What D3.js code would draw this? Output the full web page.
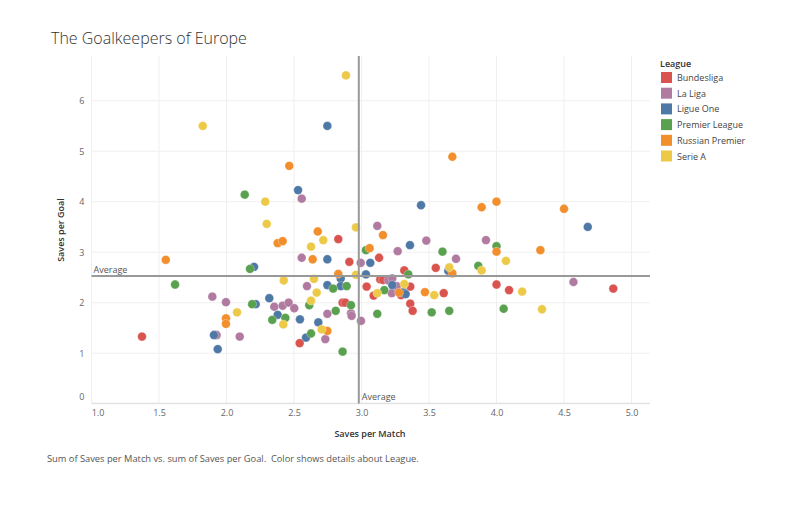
<!DOCTYPE html>
<html><head><meta charset="utf-8">
<script src="https://cdn.jsdelivr.net/npm/d3@7"></script>
<style>
body{margin:0;background:#fff;}
text{font-family:"Open Sans","Noto Sans",sans-serif;}
</style></head>
<body><svg id="chart" width="812" height="505"></svg>
<script>
const leagues = ["Bundesliga","La Liga","Ligue One","Premier League","Russian Premier","Serie A"];
const leagueColors = ["#d9534f","#b07aa1","#4e79a7","#59a14f","#f28e2b","#edc948"];
const xTicks = [1.0,1.5,2.0,2.5,3.0,3.5,4.0,4.5,5.0];
const yTicks = [0,1,2,3,4,5,6];
const avgSavesPerMatch = 2.98;
const avgSavesPerGoal = 2.53;

// [saves per match, saves per goal]
const bundesliga = [[1.374,1.33],[2.828,3.26],[2.91,2.81],[3.038,2.32],[2.86,2.0],[2.88,2.0],[2.542,1.20],[3.13,2.89],[3.55,2.69],[3.317,2.64],[3.139,2.46],[3.16,2.45],[3.361,2.32],[3.09,2.14],[3.293,2.15],[3.609,2.19],[3.361,1.98],[3.379,1.84],[4.0,2.36],[4.093,2.25],[4.865,2.28]];
const laLiga = [[2.557,4.06],[2.557,2.89],[2.994,2.79],[2.596,2.33],[2.354,1.92],[2.416,1.94],[2.46,2.0],[2.502,1.89],[2.747,1.78],[2.922,1.79],[2.927,1.74],[2.996,1.64],[2.732,1.28],[1.895,2.12],[1.996,2.01],[1.927,1.36],[2.098,1.33],[3.117,3.52],[3.48,3.23],[3.268,3.02],[3.70,2.87],[3.199,2.44],[3.228,2.48],[3.261,2.33],[3.224,2.19],[3.922,3.24],[4.57,2.41]];
const ligueOne = [[2.747,5.50],[2.53,4.23],[2.747,2.86],[3.065,2.79],[2.204,2.71],[2.846,2.48],[3.033,2.56],[2.747,2.35],[2.846,2.33],[2.317,2.09],[2.216,1.97],[2.379,1.76],[2.544,1.67],[2.68,1.61],[2.589,1.31],[1.907,1.36],[1.935,1.08],[3.441,3.93],[3.359,3.14],[3.643,2.63],[3.228,2.35],[3.31,2.21],[3.327,2.17],[4.676,3.50]];
const premierLeague = [[2.135,4.14],[2.174,2.67],[1.619,2.36],[3.033,3.04],[2.79,2.28],[2.89,2.33],[2.19,1.97],[2.613,1.95],[2.922,1.95],[2.339,1.66],[2.436,1.70],[2.809,1.84],[2.626,1.39],[2.86,1.03],[3.60,3.01],[3.347,2.56],[3.169,2.25],[3.117,1.78],[3.52,1.81],[3.65,1.84],[3.865,2.73],[4.0,3.12],[4.053,1.88]];
const russianPremier = [[1.55,2.85],[1.996,1.69],[1.996,1.58],[2.465,4.71],[2.676,3.41],[2.379,3.18],[2.416,3.22],[2.638,2.86],[2.828,2.57],[2.747,1.44],[3.06,3.08],[3.159,3.34],[3.673,2.58],[3.278,2.20],[3.47,2.21],[3.673,4.89],[3.89,3.89],[4.0,4.0],[4.50,3.86],[4.0,3.01],[4.325,3.04]];
const serieA = [[2.885,6.50],[1.824,5.50],[2.287,4.0],[2.298,3.56],[2.717,3.24],[2.959,3.49],[2.626,3.11],[2.424,2.44],[2.648,2.47],[2.959,2.55],[2.668,2.20],[2.626,2.04],[2.421,1.57],[2.705,1.47],[2.078,1.81],[3.65,2.70],[3.89,2.64],[3.317,2.37],[3.117,2.19],[3.539,2.15],[4.07,2.83],[4.19,2.22],[4.337,1.87]];
const seriesByLeague = [bundesliga, laLiga, ligueOne, premierLeague, russianPremier, serieA];

const svg = d3.select("#chart");
const pane = {left:91.5, right:650, top:56, bottom:403.5};
const x = d3.scaleLinear().domain([1,5]).range([91.5,631.5]);
const y = d3.scaleLinear().domain([0,6]).range([403.7,100.7]);
const color = d3.scaleOrdinal().domain(leagues).range(leagueColors);

// title
svg.append("text").attr("x",51).attr("y",44).attr("font-size",16).attr("fill","#333")
  .attr("font-weight",300).text("The Goalkeepers of Europe");

// gridlines
const g = svg.append("g");
g.selectAll(".vg").data(xTicks).join("line")
  .attr("x1",d=>x(d)).attr("x2",d=>x(d)).attr("y1",pane.top).attr("y2",pane.bottom)
  .attr("stroke","#f0f0f0").attr("stroke-width",1);
g.selectAll(".hg").data(yTicks.filter(d=>d>0)).join("line")
  .attr("x1",pane.left).attr("x2",pane.right).attr("y1",d=>y(d)).attr("y2",d=>y(d))
  .attr("stroke","#f0f0f0").attr("stroke-width",1);
g.append("line").attr("x1",pane.left).attr("x2",pane.right).attr("y1",pane.bottom).attr("y2",pane.bottom)
  .attr("stroke","#e2e2e2").attr("stroke-width",1.5);

// x axis
const xAxis = d3.axisBottom(x).tickValues(xTicks).tickFormat(d3.format(".1f")).tickSize(0).tickPadding(6);
const xg = svg.append("g").attr("transform",`translate(0,${pane.bottom})`).call(xAxis);
xg.select(".domain").remove();
xg.selectAll("text").attr("font-size",9).attr("fill","#666")
  .attr("font-family","'Open Sans','Noto Sans',sans-serif")
  .attr("dx",(d,i)=> i===0 ? 6 : 0);

// y axis
const yAxis = d3.axisLeft(y).tickValues(yTicks).tickFormat(d3.format("d")).tickSize(0).tickPadding(7);
const yg = svg.append("g").attr("transform",`translate(${pane.left},0)`).call(yAxis);
yg.select(".domain").remove();
yg.selectAll("text").attr("font-size",9).attr("fill","#666")
  .attr("font-family","'Open Sans','Noto Sans',sans-serif")
  .attr("dy",d=> d===0 ? "-0.45em" : "0.32em");

// axis titles
svg.append("text").attr("x",370).attr("y",437).attr("text-anchor","middle")
  .attr("font-size",9).attr("font-weight",600).attr("fill","#333").text("Saves per Match");
svg.append("text").attr("transform","translate(64,230) rotate(-90)").attr("text-anchor","middle")
  .attr("font-size",9).attr("font-weight",600).attr("fill","#333").text("Saves per Goal");

// points
const points = [];
seriesByLeague.forEach((arr,i)=>arr.forEach(p=>points.push({league:leagues[i],x:p[0],y:p[1]})));
svg.append("g").selectAll("circle").data(points).join("circle")
  .attr("cx",d=>x(d.x)).attr("cy",d=>y(d.y)).attr("r",4.4)
  .attr("fill",d=>color(d.league)).attr("stroke","#fff").attr("stroke-width",0.5).attr("stroke-opacity",0.6);

// average lines
svg.append("line").attr("x1",x(avgSavesPerMatch)).attr("x2",x(avgSavesPerMatch))
  .attr("y1",pane.top).attr("y2",pane.bottom).attr("stroke","#999").attr("stroke-width",2);
svg.append("line").attr("x1",pane.left).attr("x2",pane.right)
  .attr("y1",y(avgSavesPerGoal)).attr("y2",y(avgSavesPerGoal)).attr("stroke","#999").attr("stroke-width",2);
svg.append("text").attr("x",pane.left+2).attr("y",y(avgSavesPerGoal)-3)
  .attr("font-size",9).attr("fill","#555").text("Average");
svg.append("text").attr("x",x(avgSavesPerMatch)+3).attr("y",pane.bottom-4)
  .attr("font-size",9).attr("fill","#555").text("Average");

// caption
svg.append("text").attr("x",47).attr("y",462).attr("font-size",9.3).attr("fill","#555")
  .style("white-space","pre")
  .text("Sum of Saves per Match vs. sum of Saves per Goal.  Color shows details about League.");

// legend
const lg = svg.append("g").attr("transform","translate(660,0)");
lg.append("text").attr("x",0).attr("y",67).attr("font-size",9).attr("font-weight",600).attr("fill","#333").text("League");
const items = lg.selectAll(".li").data(leagues).join("g").attr("transform",(d,i)=>`translate(0,${72+i*15.7})`);
items.append("rect").attr("x",1).attr("y",0).attr("width",11).attr("height",11).attr("fill",d=>color(d));
items.append("text").attr("x",17).attr("y",9).attr("font-size",9).attr("fill","#444").text(d=>d);
</script></body></html>
